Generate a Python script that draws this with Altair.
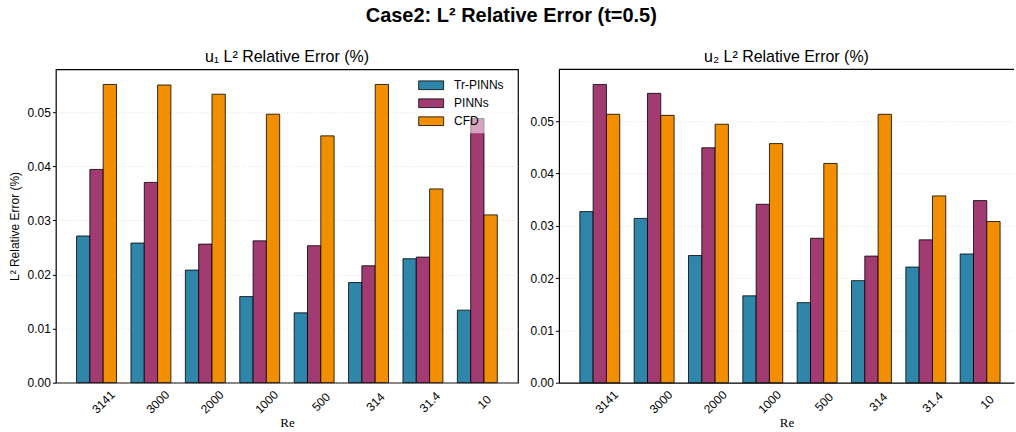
import altair as alt
import pandas as pd

# Reynolds numbers on the x axis (category order as plotted)
re_labels = ["3141", "3000", "2000", "1000", "500", "314", "31.4", "10"]
methods = ["Tr-PINNs", "PINNs", "CFD"]
colors = ["#2E86AB", "#A23B72", "#F18F01"]

# u1 relative L2 error (%)
u1_tr = [0.0271, 0.0258, 0.0208, 0.0159, 0.0129, 0.0185, 0.0229, 0.0134]
u1_pinn = [0.0394, 0.0370, 0.0256, 0.0262, 0.0253, 0.0216, 0.0232, 0.0488]
u1_cfd = [0.0551, 0.0550, 0.0533, 0.0496, 0.0456, 0.0551, 0.0358, 0.0310]

# u2 relative L2 error (%)
u2_tr = [0.0327, 0.0314, 0.0243, 0.0166, 0.0153, 0.0195, 0.0221, 0.0246]
u2_pinn = [0.0570, 0.0553, 0.0449, 0.0341, 0.0276, 0.0242, 0.0273, 0.0348]
u2_cfd = [0.0513, 0.0511, 0.0494, 0.0457, 0.0419, 0.0513, 0.0357, 0.0308]

y_ticks = [0.0, 0.01, 0.02, 0.03, 0.04, 0.05]

SANS = "Liberation Sans"
SERIF = "Liberation Serif"
FRAME = 1.2


def long_table(tr, pinn, cfd):
    rows = []
    for name, vals in zip(methods, [tr, pinn, cfd]):
        for re, v in zip(re_labels, vals):
            rows.append({"Re": re, "Method": name, "Error": v})
    return pd.DataFrame(rows)


def bars(df, ymax, show_ytitle, show_legend, xscale, axis_lines):
    legend = None
    if show_legend:
        # wide flat swatches: path drawn at twice the nominal symbol box
        legend = alt.Legend(
            title=None,
            orient="none",
            legendX=363,
            legendY=3,
            direction="vertical",
            symbolType="M-2,-0.7H2V0.7H-2Z",
            symbolSize=156,
            symbolStrokeColor="black",
            symbolStrokeWidth=0.8,
            symbolOpacity=1,
            labelFont=SANS,
            labelFontSize=12,
            labelColor="black",
            labelOffset=16,
            rowPadding=5,
            padding=6,
            fillColor="rgba(255,255,255,0.55)",
        )
    return (
        alt.Chart(df)
        .mark_bar(stroke="black", strokeWidth=0.8)
        .encode(
            x=alt.X(
                "Re:N",
                sort=re_labels,
                scale=xscale,
                axis=alt.Axis(
                    title="Re",
                    titleFont=SERIF,
                    titleFontSize=13,
                    titleFontWeight="normal",
                    titleColor="black",
                    titlePadding=1,
                    labelAngle=-45,
                    labelAlign="center",
                    labelBaseline="middle",
                    labelPadding=19,
                    labelOffset=7,
                    labelFont=SANS,
                    labelFontSize=12,
                    labelColor="black",
                    ticks=False,
                    domain=axis_lines,
                    domainColor="black",
                    domainWidth=FRAME,
                    grid=False,
                ),
            ),
            xOffset=alt.XOffset("Method:N", sort=methods),
            y=alt.Y(
                "Error:Q",
                scale=alt.Scale(domain=[0, ymax], nice=False, zero=True),
                axis=alt.Axis(
                    title="L² Relative Error (%)" if show_ytitle else None,
                    titleFont=SANS,
                    titleFontSize=12,
                    titleFontWeight="normal",
                    titleColor="black",
                    titlePadding=6,
                    values=y_ticks,
                    format=".2f",
                    labelFont=SANS,
                    labelFontSize=12,
                    labelColor="black",
                    labelPadding=2,
                    tickSize=3.5,
                    tickColor="black",
                    domain=axis_lines,
                    domainColor="black",
                    domainWidth=FRAME,
                    grid=True,
                    gridColor="#cccccc",
                    gridDash=[1, 2],
                    gridWidth=0.6,
                ),
            ),
            color=alt.Color(
                "Method:N",
                sort=methods,
                scale=alt.Scale(domain=methods, range=colors),
                legend=legend,
            ),
        )
    )


def panel_title(text):
    return alt.TitleParams(
        text, font=SANS, fontSize=16, fontWeight="normal", color="black", offset=4
    )


# Left panel: fully framed, legend inside the upper right corner
left = bars(
    long_table(u1_tr, u1_pinn, u1_cfd),
    0.0579,
    True,
    True,
    alt.Scale(paddingInner=0.266, paddingOuter=0.38),
    False,
).properties(
    width=463,
    height=314,
    view=alt.ViewBackground(stroke="black", strokeWidth=FRAME, fill="white"),
    title=panel_title("u₁ L² Relative Error (%)"),
)

# Right panel: runs to the right edge of the figure, framed on left/bottom/top
right_bars = bars(
    long_table(u2_tr, u2_pinn, u2_cfd),
    0.0599,
    False,
    False,
    alt.Scale(paddingInner=0.266, paddingOuter=0.321, align=0.6),
    True,
)
top_edge = (
    alt.Chart(pd.DataFrame({"edge": [0]}))
    .mark_rule(color="black", strokeWidth=FRAME)
    .encode(x=alt.value(0), x2=alt.value("width"), y=alt.value(0))
)
right = alt.layer(right_bars, top_edge).properties(
    width=456,
    height=314,
    view=alt.ViewBackground(stroke="transparent", fill="white"),
    title=panel_title("u₂ L² Relative Error (%)"),
)

chart = (
    alt.hconcat(left, right, spacing=41, bounds="flush")
    .resolve_scale(y="independent", color="independent")
    .resolve_legend(color="independent")
    .properties(
        title=alt.TitleParams(
            "Case2: L² Relative Error (t=0.5)",
            font=SANS,
            fontSize=20,
            fontWeight="bold",
            color="black",
            anchor="middle",
            offset=22,
        ),
        padding={"left": 7, "top": 5, "right": 0, "bottom": 5},
        background="white",
    )
)

chart.save("out.html", embed_options={"renderer": "svg", "actions": False})
